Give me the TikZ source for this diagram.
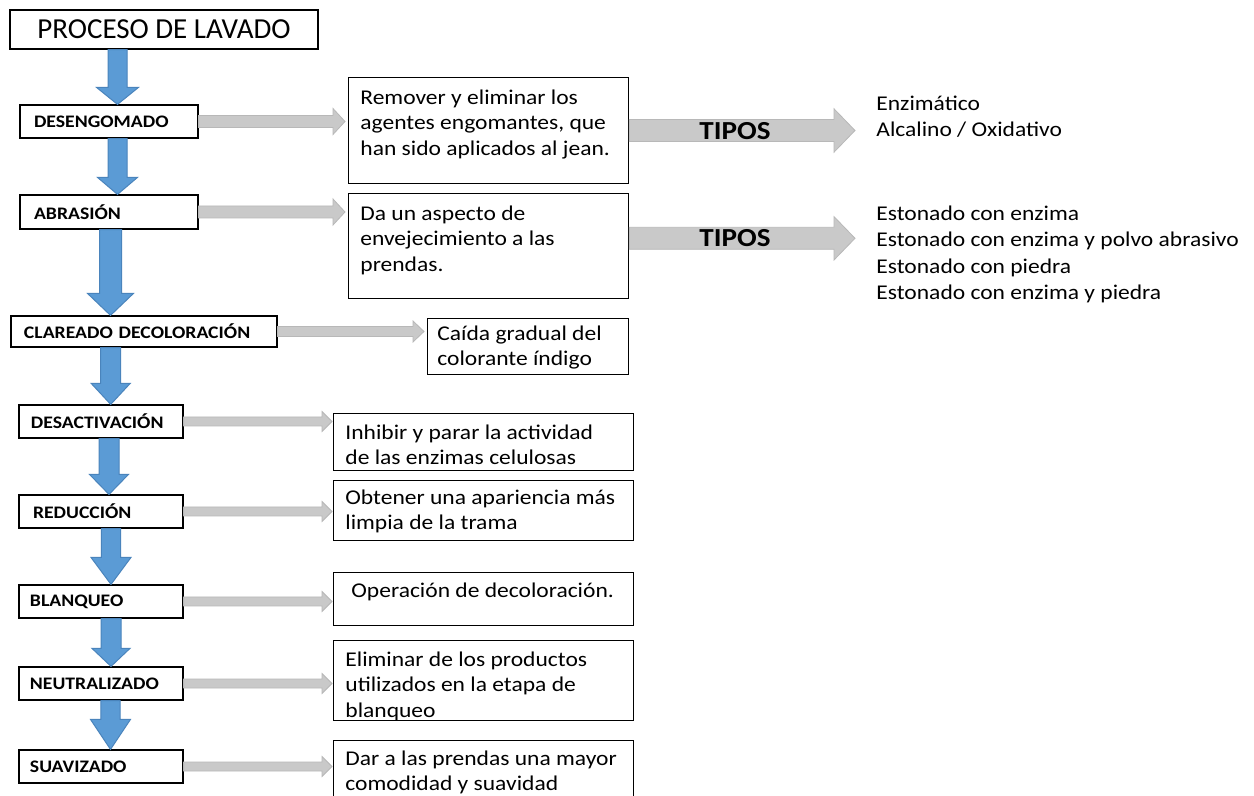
\documentclass[tikz,border=0pt]{standalone}
\usepackage{fontspec}
\setmainfont{Carlito}[FakeStretch=1.12]
\newfontfamily\titlefont{Carlito}
\usetikzlibrary{calc}
\definecolor{bluefill}{HTML}{5B9BD5}
\definecolor{blueedge}{HTML}{4A84BC}
\definecolor{grayfill}{HTML}{C9C9C9}
\definecolor{grayedge}{HTML}{B8B8B8}
% horizontal block arrow: style, from, to, shaft half, head half, head length, gap
\newcommand\hblock[7]{%
  \path[#1] let \p1=#2, \p2=#3 in
    (\x1,\y1+#4) -- (\x2-#7-#6,\y1+#4) -- (\x2-#7-#6,\y1+#5) -- (\x2-#7,\y1)
    -- (\x2-#7-#6,\y1-#5) -- (\x2-#7-#6,\y1-#4) -- (\x1,\y1-#4) -- cycle;}
% vertical block arrow: style, from, to, x, shaft half, head half, head length
\newcommand\vblock[7]{%
  \path[#1] let \p1=#2, \p2=#3 in
    (#4-#5,\y1) -- (#4-#5,\y2+#7) -- (#4-#6,\y2+#7) -- (#4,\y2)
    -- (#4+#6,\y2+#7) -- (#4+#5,\y2+#7) -- (#4+#5,\y1) -- cycle;}
\begin{document}
\begin{tikzpicture}[x=0.5pt,y=-0.5pt,
  titlebox/.style={draw, line width=0.6pt, fill=white, minimum width=154pt, minimum height=19.5pt, inner sep=0pt, font=\titlefont\fontsize{14.5}{16}\selectfont},
  stepnode/.style={draw, line width=0.6pt, fill=white, align=left, inner ysep=0pt, font=\bfseries\fontsize{8.8}{10}\selectfont},
  tbox/.style={draw, line width=0.6pt, inner sep=0pt, anchor=north west},
  btext/.style={inner sep=0pt, anchor=north west, align=left, font=\fontsize{10.5}{12.75}\selectfont},
  rtext/.style={inner sep=0pt, anchor=north west, align=left, font=\fontsize{10.5}{13.3}\selectfont},
  tipos/.style={inner sep=0pt, font=\bfseries\fontsize{13}{15}\selectfont},
  bluearrow/.style={fill=bluefill, draw=blueedge, line width=0.5pt},
  grayarrow/.style={fill=grayfill, draw=grayedge, line width=0.4pt}
]
\useasboundingbox (0,0) rectangle (1254,796);
\fill[white] (0,0) rectangle (1254,796);

% title
\node[titlebox] (title) at (164,29.5) {PROCESO DE LAVADO};

% steps
\node[stepnode, minimum height=16.5pt, inner xsep=7pt, text width=75pt] (s1) at (109,121.5) {DESENGOMADO};
\node[stepnode, minimum height=17pt, inner xsep=7pt, text width=75pt] (s2) at (109,212) {ABRASIÓN};
\node[stepnode, minimum height=15.5pt, inner xsep=6.5pt, text width=120pt] (s3) at (144,331.5) {CLAREADO DECOLORACIÓN};
\node[stepnode, minimum height=16.5pt, inner xsep=6pt, text width=70pt] (s4) at (101,421.5) {DESACTIVACIÓN};
\node[stepnode, minimum height=16.5pt, inner xsep=7pt, text width=68pt] (s5) at (101,511.5) {REDUCCIÓN};
\node[stepnode, minimum height=16.5pt, inner xsep=5.5pt, text width=71pt] (s6) at (101,601.5) {BLANQUEO};
\node[stepnode, minimum height=16.5pt, inner xsep=5.5pt, text width=71pt] (s7) at (101,683.5) {NEUTRALIZADO};
\node[stepnode, minimum height=16.5pt, inner xsep=5.5pt, text width=71pt] (s8) at (101,766.5) {SUAVIZADO};

% description boxes
\node[tbox, minimum width=140pt, minimum height=53pt] (b1) at (348,77) {};
\node[tbox, minimum width=140pt, minimum height=52.5pt] (b2) at (348,193) {};
\node[tbox, minimum width=100.5pt, minimum height=28pt] (b3) at (427,318) {};
\node[tbox, minimum width=150pt, minimum height=28.5pt] (b4) at (333,413) {};
\node[tbox, minimum width=150pt, minimum height=30pt] (b5) at (333,480) {};
\node[tbox, minimum width=150pt, minimum height=26.5pt] (b6) at (333,572) {};
\node[tbox, minimum width=150pt, minimum height=40pt] (b7) at (333,640) {};
\node[tbox, minimum width=150pt, minimum height=35pt] (b8) at (333,740) {};

\node[btext] (t1) at (360,86) {\strut Remover y eliminar los\\agentes engomantes, que\\han sido aplicados al jean.};
\node[btext] (t2) at (360,202) {\strut Da un aspecto de\\envejecimiento a las\\prendas.};
\node[btext] (t3) at (437,322) {\strut Caída gradual del\\colorante índigo};
\node[btext] (t4) at (345,421) {\strut Inhibir y parar la actividad\\de las enzimas celulosas};
\node[btext] (t5) at (345,486) {\strut Obtener una apariencia más\\limpia de la trama};
\node[btext] (t6) at (351,579) {\strut Operación de decoloración.};
\node[btext] (t7) at (345,648) {\strut Eliminar de los productos\\utilizados en la etapa de\\blanqueo};
\node[btext] (t8) at (345,747) {\strut Dar a las prendas una mayor\\comodidad y suavidad};

% types
\coordinate (tip1) at (855,130.5);
\coordinate (tip2) at (855,238.3);
\hblock{grayarrow}{(b1.east |- tip1)}{(tip1)}{5.5pt}{10.85pt}{10.5pt}{0pt}
\hblock{grayarrow}{(b2.east |- tip2)}{(tip2)}{5.5pt}{10.85pt}{10.5pt}{0pt}
\node[tipos] (tp1) at (735,131) {TIPOS};
\node[tipos] (tp2) at (735,238) {TIPOS};
\node[rtext] (r1) at (876,91) {\strut Enzimático\\Alcalino / Oxidativo};
\node[rtext] (r2) at (876,201) {\strut Estonado con enzima\\Estonado con enzima y polvo abrasivo\\Estonado con piedra\\Estonado con enzima y piedra};

% gray arrows
\hblock{grayarrow}{(s1.east)}{(b1.west)}{3pt}{6.5pt}{6pt}{1.5pt}
\hblock{grayarrow}{(s2.east)}{(b2.west)}{3pt}{6.5pt}{6pt}{1.5pt}
\hblock{grayarrow}{(s3.east)}{(b3.west)}{2.5pt}{5.25pt}{5.5pt}{1.5pt}
\hblock{grayarrow}{(s4.east)}{(b4.west)}{2.25pt}{5pt}{5pt}{0.5pt}
\hblock{grayarrow}{(s5.east)}{(b5.west)}{2.25pt}{5pt}{5pt}{0.5pt}
\hblock{grayarrow}{(s6.east)}{(b6.west)}{2.25pt}{5pt}{5pt}{0.5pt}
\hblock{grayarrow}{(s7.east)}{(b7.west)}{2.25pt}{5pt}{5pt}{0.5pt}
\hblock{grayarrow}{(s8.east)}{(b8.west)}{2.25pt}{5pt}{5pt}{0.5pt}

% blue arrows
\vblock{bluearrow}{(title.south)}{(s1.north)}{58.75pt}{4.75pt}{10.5pt}{8.5pt}
\vblock{bluearrow}{(s1.south)}{(s2.north)}{58.75pt}{4.75pt}{10pt}{8.5pt}
\vblock{bluearrow}{(s2.south)}{(s3.north)}{55.25pt}{5.5pt}{11.5pt}{11pt}
\vblock{bluearrow}{(s3.south)}{(s4.north)}{55.35pt}{5pt}{9.75pt}{10.5pt}
\vblock{bluearrow}{(s4.south)}{(s5.north)}{54.5pt}{5pt}{9.75pt}{10pt}
\vblock{bluearrow}{(s5.south)}{(s6.north)}{55.5pt}{4.85pt}{10pt}{13.5pt}
\vblock{bluearrow}{(s6.south)}{(s7.north)}{55.5pt}{5pt}{9.5pt}{9pt}
\vblock{bluearrow}{(s7.south)}{(s8.north)}{55.25pt}{4.8pt}{10pt}{15pt}
\end{tikzpicture}
\end{document}
